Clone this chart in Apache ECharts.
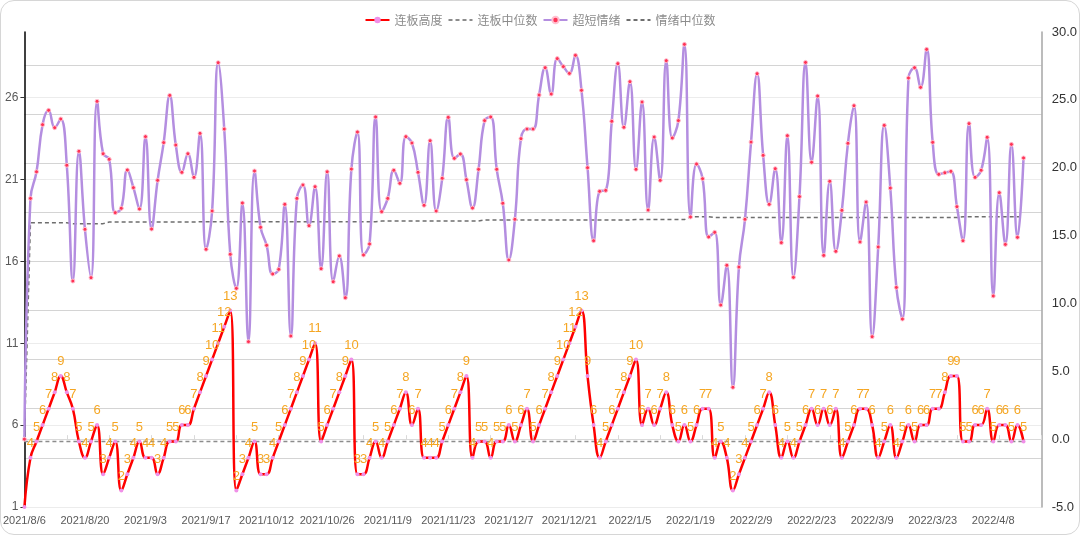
<!DOCTYPE html>
<html>
<head>
<meta charset="utf-8">
<script src="https://cdn.jsdelivr.net/npm/echarts@6/dist/echarts.min.js"></script>
<style>
html,body{margin:0;padding:0;background:#fff;}
#wrap{position:absolute;left:0;top:0;width:1080px;height:535px;box-sizing:border-box;border:1.5px solid #d6d6d6;border-radius:14px;overflow:hidden;}
#chart{position:absolute;left:0;top:0;width:1080px;height:535px;}
</style>
</head>
<body>
<div id="wrap"></div>
<div id="chart"></div>
<script>
// Trading dates (categories)
const dates = [
"2021/8/6","2021/8/9","2021/8/10","2021/8/11","2021/8/12","2021/8/13","2021/8/16","2021/8/17","2021/8/18","2021/8/19",
"2021/8/20","2021/8/23","2021/8/24","2021/8/25","2021/8/26","2021/8/27","2021/8/30","2021/8/31","2021/9/1","2021/9/2",
"2021/9/3","2021/9/6","2021/9/7","2021/9/8","2021/9/9","2021/9/10","2021/9/13","2021/9/14","2021/9/15","2021/9/16",
"2021/9/17","2021/9/22","2021/9/23","2021/9/24","2021/9/27","2021/9/28","2021/9/29","2021/9/30","2021/10/8","2021/10/11",
"2021/10/12","2021/10/13","2021/10/14","2021/10/15","2021/10/18","2021/10/19","2021/10/20","2021/10/21","2021/10/22","2021/10/25",
"2021/10/26","2021/10/27","2021/10/28","2021/10/29","2021/11/1","2021/11/2","2021/11/3","2021/11/4","2021/11/5","2021/11/8",
"2021/11/9","2021/11/10","2021/11/11","2021/11/12","2021/11/15","2021/11/16","2021/11/17","2021/11/18","2021/11/19","2021/11/22",
"2021/11/23","2021/11/24","2021/11/25","2021/11/26","2021/11/29","2021/11/30","2021/12/1","2021/12/2","2021/12/3","2021/12/6",
"2021/12/7","2021/12/8","2021/12/9","2021/12/10","2021/12/13","2021/12/14","2021/12/15","2021/12/16","2021/12/17","2021/12/20",
"2021/12/21","2021/12/22","2021/12/23","2021/12/24","2021/12/27","2021/12/28","2021/12/29","2021/12/30","2021/12/31","2022/1/4",
"2022/1/5","2022/1/6","2022/1/7","2022/1/10","2022/1/11","2022/1/12","2022/1/13","2022/1/14","2022/1/17","2022/1/18",
"2022/1/19","2022/1/20","2022/1/21","2022/1/24","2022/1/25","2022/1/26","2022/1/27","2022/1/28","2022/2/7","2022/2/8",
"2022/2/9","2022/2/10","2022/2/11","2022/2/14","2022/2/15","2022/2/16","2022/2/17","2022/2/18","2022/2/21","2022/2/22",
"2022/2/23","2022/2/24","2022/2/25","2022/2/28","2022/3/1","2022/3/2","2022/3/3","2022/3/4","2022/3/7","2022/3/8",
"2022/3/9","2022/3/10","2022/3/11","2022/3/14","2022/3/15","2022/3/16","2022/3/17","2022/3/18","2022/3/21","2022/3/22",
"2022/3/23","2022/3/24","2022/3/25","2022/3/28","2022/3/29","2022/3/30","2022/3/31","2022/4/1","2022/4/6","2022/4/7",
"2022/4/8","2022/4/11","2022/4/12","2022/4/13","2022/4/14","2022/4/15","2022/4/18","2022/4/19","2022/4/20"
];

// 连板高度 (left axis)
const boardHeight = [
1,4,5,6,7,8,9,8,7,5,
4,5,6,3,4,5,2,3,4,5,
4,4,3,4,5,5,6,6,7,8,
9,10,11,12,13,2,3,4,5,3,
3,4,5,6,7,8,9,10,11,5,
6,7,8,9,10,3,3,4,5,4,
5,6,7,8,6,7,4,4,4,5,
6,7,8,9,4,5,5,4,5,5,
6,5,6,7,5,6,7,8,9,10,
11,12,13,9,6,4,5,6,7,8,
9,10,6,7,6,7,8,6,5,6,
5,6,7,7,4,5,4,2,3,4,
5,6,7,8,6,4,5,4,5,6,
7,6,7,6,7,4,5,6,7,7,
6,4,5,6,4,5,6,5,6,6,
7,7,8,9,9,5,5,6,6,7,
5,6,6,5,6,5
];

// 连板中位数 (left axis)
const boardMedian = [
5,5,5,5,5,5,5,5,5,5, 5,5,5,5,5,5,5,5,5,5, 5,5,5,5,5,5,5,5,5,5, 5,5,5,5,5,5,5,5,5,5,
5,5,5,5,5,5,5,5,5,5, 5,5,5,5,5,5,5,5,5,5, 5,5,5,5,5,5,5,5,5,5, 5,5,5,5,5,5,5,5,5,5,
5,5,5,5,5,5,5,5,5,5, 5,5,5,5,5,5,5,5,5,5, 5,5,5,5,5,5,5,5,5,5, 5,5,5,5,5,5,5,5,5,5,
5,5,5,5,5,5,5,5,5,5, 5,5,5,5,5,5,5,5,5,5, 5,5,5,5,5,5,5,5,5,5, 5,5,5,5,5,5,5,5,5,5,
5,5,5,5,5,5
];

// 超短情绪 (right axis)
const sentiment = [
0,17.74,19.7,23.17,24.23,22.95,23.59,20.18,11.65,21.21,
15.46,11.9,24.89,21.03,20.62,16.69,17.01,19.83,18.53,16.96,
22.29,15.48,19.07,21.85,25.33,21.67,19.66,21.03,19.29,22.53,
13.99,16.81,27.74,22.85,13.62,11.11,17.4,7.18,19.76,15.61,
14.28,12.17,12.51,17.3,7.6,17.74,18.73,15.73,18.6,12.56,
19.7,11.6,13.5,10.42,19.9,22.63,13.57,14.38,23.74,16.76,
17.74,19.81,18.85,22.29,21.82,19.66,17.23,21.99,16.81,19.22,
23.71,20.69,21.01,19.12,17.03,19.88,23.47,23.74,19.88,17.38,
13.2,16.2,22.14,22.85,22.85,25.36,27.37,25.43,28.04,27.45,
26.95,28.28,25.7,20.0,14.62,18.26,18.33,23.42,27.67,22.98,
26.34,19.88,24.84,16.88,22.26,19.07,27.89,22.19,23.47,29.09,
16.37,20.27,19.19,14.9,15.24,9.88,12.81,3.82,12.68,16.2,
21.89,26.93,20.91,17.3,19.93,14.48,22.36,11.92,17.87,27.76,
20.4,25.28,13.54,19.0,13.84,16.86,21.8,24.57,14.53,17.47,
7.55,14.16,23.12,18.5,11.18,8.85,26.61,27.37,25.92,28.72,
21.87,19.51,19.63,19.73,17.13,14.62,23.25,19.29,19.81,22.24,
10.55,18.16,14.35,21.72,14.87,20.72
];

// 情绪中位数 (right axis)
const sentimentMedian = [
0,15.95,15.95,15.95,15.95,15.95,15.95,15.95,15.88,15.88,
15.88,15.88,15.88,15.88,16.0,16.0,16.0,16.0,16.0,16.0,
16.0,16.0,16.0,16.0,16.0,16.0,16.0,16.0,16.0,16.02,
16.02,16.02,16.02,16.02,16.02,16.02,16.02,16.02,16.02,16.02,
16.02,16.02,16.02,16.02,16.02,16.02,16.02,16.02,16.02,16.02,
16.02,16.02,16.02,16.02,16.02,16.02,16.02,16.02,16.02,16.07,
16.07,16.07,16.07,16.07,16.07,16.07,16.07,16.07,16.07,16.07,
16.07,16.07,16.07,16.07,16.07,16.07,16.15,16.15,16.15,16.15,
16.15,16.15,16.15,16.15,16.15,16.15,16.15,16.15,16.15,16.15,
16.15,16.15,16.15,16.15,16.15,16.15,16.15,16.15,16.15,16.15,
16.15,16.18,16.18,16.18,16.18,16.18,16.18,16.18,16.18,16.18,
16.39,16.39,16.39,16.39,16.33,16.33,16.33,16.33,16.33,16.33,
16.33,16.33,16.33,16.33,16.33,16.33,16.33,16.33,16.33,16.33,
16.33,16.33,16.33,16.33,16.33,16.33,16.33,16.33,16.33,16.33,
16.33,16.33,16.33,16.33,16.33,16.33,16.33,16.33,16.33,16.33,
16.33,16.33,16.33,16.33,16.33,16.39,16.39,16.39,16.39,16.39,
16.39,16.39,16.39,16.39,16.39,16.39
];

const numFont = "'Liberation Sans', 'Noto Sans', sans-serif";
const cjkFont = "'Noto Sans CJK SC', sans-serif";

const chart = echarts.init(document.getElementById('chart'), null, {renderer: 'canvas'});
chart.setOption({
  animation: false,
  backgroundColor: 'transparent',
  legend: {
    top: 9,
    left: 'center',
    itemWidth: 24,
    itemHeight: 8,
    itemGap: 5,
    textStyle: {color: '#8c8c8c', fontSize: 12, fontFamily: cjkFont},
    data: [
      {name: '连板高度'},
      {name: '连板中位数', itemStyle: {opacity: 0}},
      {name: '超短情绪'},
      {name: '情绪中位数', itemStyle: {opacity: 0}}
    ]
  },
  grid: {left: 24, right: 38, top: 32, bottom: 28, containLabel: false},
  xAxis: {
    type: 'category',
    data: dates,
    boundaryGap: false,
    axisLine: {show: true, lineStyle: {color: '#d9d9d9', width: 1}},
    axisTick: {show: true, inside: true, interval: 6, length: 4, lineStyle: {color: '#d9d9d9'}},
    axisLabel: {interval: 9, color: '#595959', fontSize: 11, margin: 8, fontFamily: numFont},
    splitLine: {show: false}
  },
  yAxis: [
    {
      type: 'value', position: 'left', min: 1, max: 30, interval: 5,
      axisLine: {show: true, lineStyle: {color: '#000', width: 1.5}},
      axisTick: {show: true, length: 4, lineStyle: {color: '#333'}},
      axisLabel: {color: '#595959', fontSize: 12, margin: 6, showMaxLabel: false, fontFamily: numFont},
      splitLine: {show: true, showMaxLine: false, lineStyle: {color: '#ececec', width: 1}}
    },
    {
      type: 'value', position: 'right', min: -5, max: 30, interval: 5,
      axisLine: {show: true, lineStyle: {color: '#a6a6a6', width: 1.5}},
      axisTick: {show: false},
      axisLabel: {color: '#333', fontSize: 13, margin: 10, fontFamily: numFont,
        formatter: v => v.toFixed(1)},
      splitLine: {show: false}
    },
    {
      type: 'value', position: 'left', min: 1, max: 30, interval: 3, show: true,
      axisLine: {show: false}, axisTick: {show: false}, axisLabel: {show: false},
      splitLine: {show: true, showMaxLine: false, showMinLine: false, lineStyle: {color: '#d4d4d4', width: 1.2}}
    }
  ],
  series: [
    {
      name: '连板高度', type: 'line', yAxisIndex: 0, data: boardHeight,
      smooth: 0.45, symbol: 'circle', symbolSize: 4, showSymbol: true, z: 4,
      lineStyle: {color: '#ff0000', width: 2.5},
      itemStyle: {color: '#f090e8', borderWidth: 0},
      label: {show: true, position: 'top', distance: 6, color: '#f5a623', fontSize: 13,
        fontFamily: numFont, formatter: p => p.dataIndex === 0 ? '' : p.value}
    },
    {
      name: '连板中位数', type: 'line', yAxisIndex: 0, data: boardMedian,
      symbol: 'none', z: 3,
      lineStyle: {color: '#8c8c8c', width: 1.5, type: [4, 3]},
      itemStyle: {color: '#8c8c8c'}
    },
    {
      name: '超短情绪', type: 'line', yAxisIndex: 1, data: sentiment,
      smooth: 0.45, symbol: 'circle', symbolSize: 4, showSymbol: true, z: 5,
      lineStyle: {color: '#b48ee0', width: 2.5},
      itemStyle: {color: '#ff3355', borderColor: '#ffc0d0', borderWidth: 1}
    },
    {
      name: '情绪中位数', type: 'line', yAxisIndex: 1, data: sentimentMedian,
      symbol: 'none', z: 3,
      lineStyle: {color: '#6e6e6e', width: 1.5, type: [4, 3]},
      itemStyle: {color: '#6e6e6e'}
    }
  ]
});
</script>
</body>
</html>
